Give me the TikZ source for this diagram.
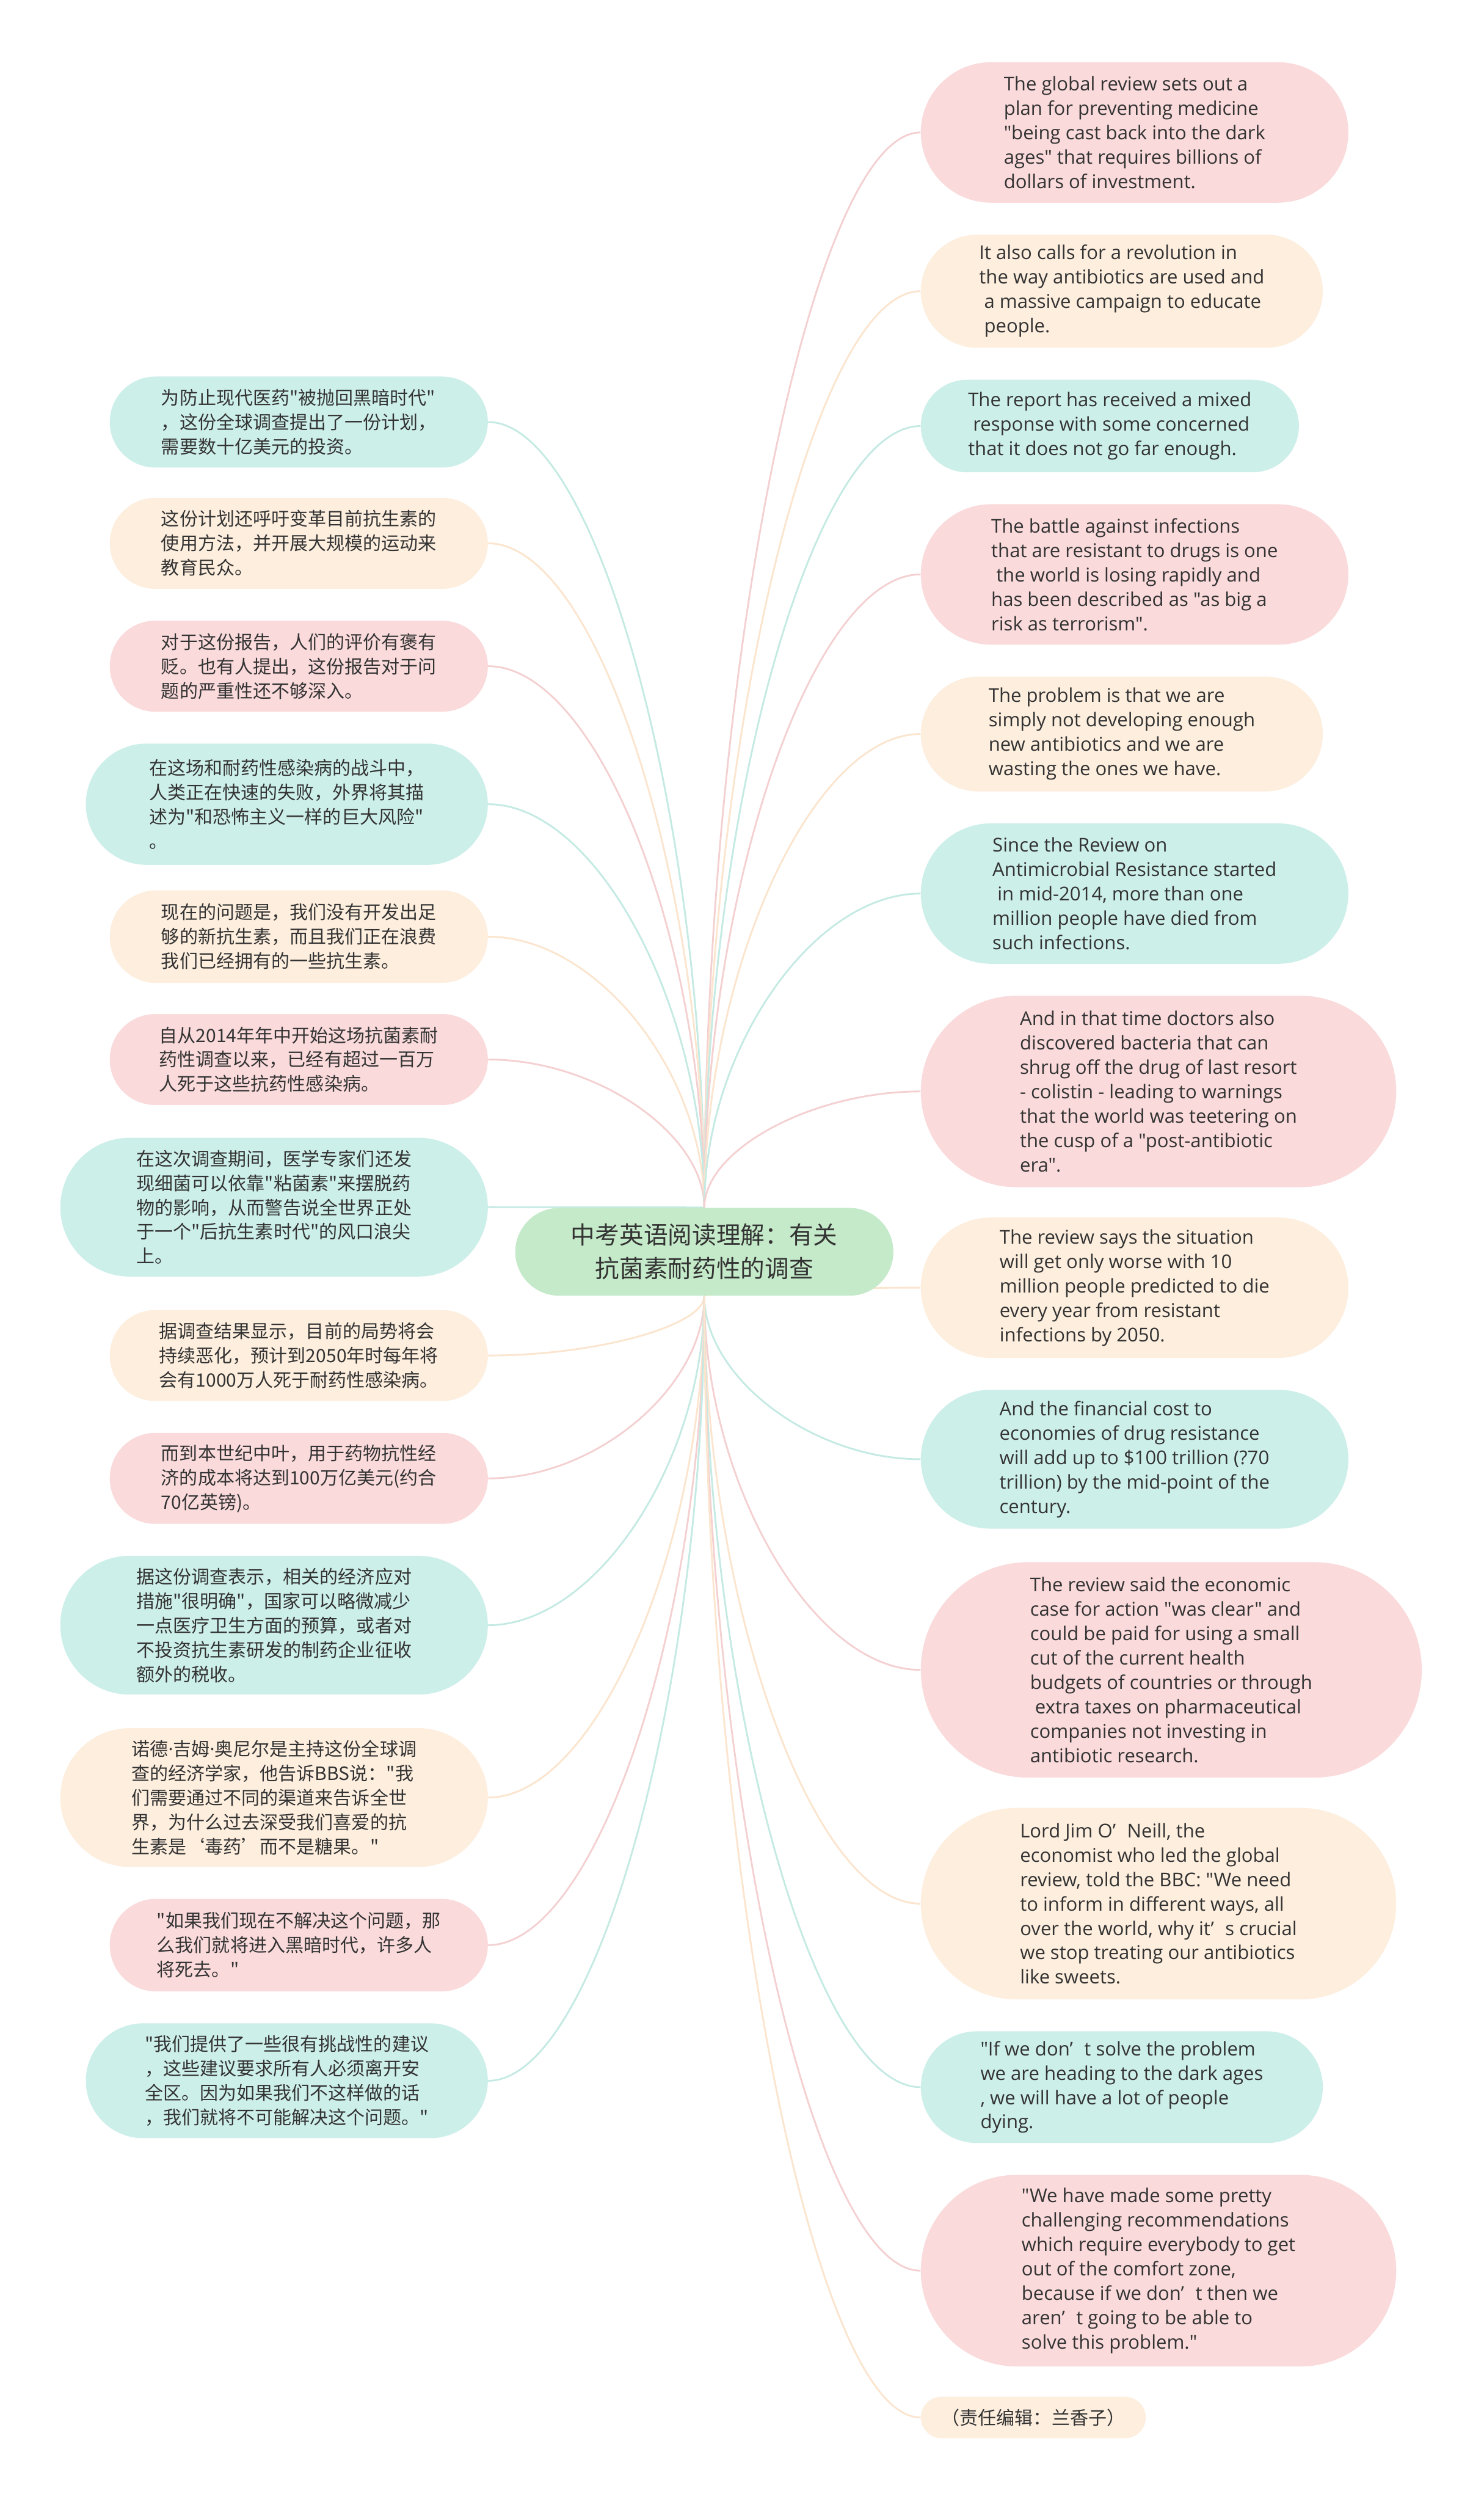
\documentclass[tikz,border=0pt]{standalone}
\usepackage{fontspec}
\setmainfont{Open Sans}[Ligatures=TeXOff]
\newfontfamily\cjk{Noto Sans CJK SC}
\usetikzlibrary{calc, backgrounds}
\definecolor{mmtext}{RGB}{51,51,51}
\definecolor{mmteal}{RGB}{205,239,233}
\definecolor{mmtealline}{RGB}{196,234,227}
\definecolor{mmpeach}{RGB}{253,238,222}
\definecolor{mmpeachline}{RGB}{251,229,206}
\definecolor{mmpink}{RGB}{250,218,219}
\definecolor{mmpinkline}{RGB}{244,208,209}
\definecolor{mmroot}{RGB}{197,234,201}
\tikzset{
  zh/.style    = {rectangle, fill=#1, text=mmtext, align=left, inner sep=0pt,
                  font=\cjk\fontsize{11.5}{15.3}\selectfont},
  en/.style    = {rectangle, fill=#1, text=mmtext, align=left, inner sep=0pt,
                  font=\fontsize{11.9}{15.3}\selectfont},
  topic/.style = {rectangle, fill=mmroot, text=mmtext, align=center, inner sep=0pt,
                  rounded corners=27.5pt, minimum width=237pt, minimum height=55pt,
                  font=\cjk\fontsize{15.2}{21}\selectfont},
  link/.style  = {draw=#1, line width=1.1pt,
                  to path={.. controls ($(\tikztostart)!0.5!(\tikztostart -| \tikztotarget)$)
                           and ($(\tikztotarget)!0.5!(\tikztostart -| \tikztotarget)$) .. (\tikztotarget)}},
}
\newcommand{\gap}{\hspace{0.6em}}
\newcommand{\mdot}{{\rmfamily\fontsize{11.5}{15.3}\selectfont ·}}

\begin{document}
\begin{tikzpicture}[x=1pt, y=-1pt]
\useasboundingbox (0,0) rectangle (930,1568);

% ---------- Central topic ----------
\node[topic] (root) at (441.5,784.5) {中考英语阅读理解：有关\\抗菌素耐药性的调查};

% ---------- Left column (Chinese) ----------
\node[zh=mmteal, anchor=east, minimum width=237pt, minimum height=57pt, rounded corners=28.5pt] (zh1) at (306,264.5)
  {为防止现代医药"被抛回黑暗时代"\\，这份全球调查提出了一份计划，\\需要数十亿美元的投资。};
\node[zh=mmpeach, anchor=east, minimum width=237pt, minimum height=57pt, rounded corners=28.5pt] (zh2) at (306,340.5)
  {这份计划还呼吁变革目前抗生素的\\使用方法，并开展大规模的运动来\\教育民众。};
\node[zh=mmpink, anchor=east, minimum width=237pt, minimum height=57pt, rounded corners=28.5pt] (zh3) at (306,417.5)
  {对于这份报告，人们的评价有褒有\\贬。也有人提出，这份报告对于问\\题的严重性还不够深入。};
\node[zh=mmteal, anchor=east, minimum width=252pt, minimum height=76pt, rounded corners=38pt] (zh4) at (306,504)
  {在这场和耐药性感染病的战斗中，\\人类正在快速的失败，外界将其描\\述为"和恐怖主义一样的巨大风险"\\。};
\node[zh=mmpeach, anchor=east, minimum width=237pt, minimum height=58pt, rounded corners=29pt] (zh5) at (306,587)
  {现在的问题是，我们没有开发出足\\够的新抗生素，而且我们正在浪费\\我们已经拥有的一些抗生素。};
\node[zh=mmpink, anchor=east, minimum width=237pt, minimum height=57pt, rounded corners=28.5pt] (zh6) at (306,664)
  {自从2014年年中开始这场抗菌素耐\\药性调查以来，已经有超过一百万\\人死于这些抗药性感染病。};
\node[zh=mmteal, anchor=east, minimum width=268pt, minimum height=87pt, rounded corners=43.5pt] (zh7) at (306,756.5)
  {在这次调查期间，医学专家们还发\\现细菌可以依靠"粘菌素"来摆脱药\\物的影响，从而警告说全世界正处\\于一个"后抗生素时代"的风口浪尖\\上。};
\node[zh=mmpeach, anchor=east, minimum width=237pt, minimum height=57pt, rounded corners=28.5pt] (zh8) at (306,849.5)
  {据调查结果显示，目前的局势将会\\持续恶化，预计到2050年时每年将\\会有1000万人死于耐药性感染病。};
\node[zh=mmpink, anchor=east, minimum width=237pt, minimum height=57pt, rounded corners=28.5pt] (zh9) at (306,926.5)
  {而到本世纪中叶，用于药物抗性经\\济的成本将达到100万亿美元(约合\\70亿英镑)。};
\node[zh=mmteal, anchor=east, minimum width=268pt, minimum height=87pt, rounded corners=43.5pt] (zh10) at (306,1018.5)
  {据这份调查表示，相关的经济应对\\措施"很明确"，国家可以略微减少\\一点医疗卫生方面的预算，或者对\\不投资抗生素研发的制药企业征收\\额外的税收。};
\node[zh=mmpeach, anchor=east, minimum width=268pt, minimum height=87pt, rounded corners=43.5pt] (zh11) at (306,1126.5)
  {诺德\mdot 吉姆\mdot 奥尼尔是主持这份全球调\\查的经济学家，他告诉BBS说："我\\们需要通过不同的渠道来告诉全世\\界，为什么过去深受我们喜爱的抗\\生素是‘毒药’而不是糖果。"};
\node[zh=mmpink, anchor=east, minimum width=237pt, minimum height=58pt, rounded corners=29pt] (zh12) at (306,1219)
  {"如果我们现在不解决这个问题，那\\么我们就将进入黑暗时代，许多人\\将死去。"};
\node[zh=mmteal, anchor=east, minimum width=252pt, minimum height=72pt, rounded corners=36pt] (zh13) at (306,1304)
  {"我们提供了一些很有挑战性的建议\\，这些建议要求所有人必须离开安\\全区。因为如果我们不这样做的话\\，我们就将不可能解决这个问题。"};

% ---------- Right column (English) ----------
\node[en=mmpink, anchor=west, minimum width=268pt, minimum height=88pt, rounded corners=44pt] (en1) at (577,83)
  {The global review sets out a\\plan for preventing medicine\\"being cast back into the dark\\ages" that requires billions of\\dollars of investment.};
\node[en=mmpeach, anchor=west, minimum width=252pt, minimum height=71pt, rounded corners=35.5pt] (en2) at (577,182.5)
  {It also calls for a revolution in\\the way antibiotics are used and\\\ a massive campaign to educate\\\ people.};
\node[en=mmteal, anchor=west, minimum width=237pt, minimum height=58pt, rounded corners=29pt] (en3) at (577,267)
  {The report has received a mixed\\\ response with some concerned\\that it does not go far enough.};
\node[en=mmpink, anchor=west, minimum width=268pt, minimum height=88pt, rounded corners=44pt] (en4) at (577,360)
  {The battle against infections\\that are resistant to drugs is one\\\ the world is losing rapidly and\\has been described as "as big a\\risk as terrorism".};
\node[en=mmpeach, anchor=west, minimum width=252pt, minimum height=72pt, rounded corners=36pt] (en5) at (577,460)
  {The problem is that we are\\simply not developing enough\\new antibiotics and we are\\wasting the ones we have.};
\node[en=mmteal, anchor=west, minimum width=268pt, minimum height=88pt, rounded corners=44pt] (en6) at (577,560)
  {Since the Review on\\Antimicrobial Resistance started\\\ in mid-2014, more than one\\million people have died from\\such infections.};
\node[en=mmpink, anchor=west, minimum width=298pt, minimum height=120pt, rounded corners=60pt] (en7) at (577,684)
  {And in that time doctors also\\discovered bacteria that can\\shrug off the drug of last resort\\- colistin - leading to warnings\\that the world was teetering on\\the cusp of a "post-antibiotic\\era".};
\node[en=mmpeach, anchor=west, minimum width=268pt, minimum height=88pt, rounded corners=44pt] (en8) at (577,807)
  {The review says the situation\\will get only worse with 10\\million people predicted to die\\every year from resistant\\infections by 2050.};
\node[en=mmteal, anchor=west, minimum width=268pt, minimum height=87pt, rounded corners=43.5pt] (en9) at (577,914.5)
  {And the financial cost to\\economies of drug resistance\\will add up to \$100 trillion (?70\\trillion) by the mid-point of the\\century.};
\node[en=mmpink, anchor=west, minimum width=314pt, minimum height=135pt, rounded corners=67.5pt] (en10) at (577,1046.5)
  {The review said the economic\\case for action "was clear" and\\could be paid for using a small\\cut of the current health\\budgets of countries or through\\\ extra taxes on pharmaceutical\\companies not investing in\\antibiotic research.};
\node[en=mmpeach, anchor=west, minimum width=298pt, minimum height=120pt, rounded corners=60pt] (en11) at (577,1193)
  {Lord Jim O’\gap Neill, the\\economist who led the global\\review, told the BBC: "We need\\to inform in different ways, all\\over the world, why it’\gap s crucial\\we stop treating our antibiotics\\like sweets.};
\node[en=mmteal, anchor=west, minimum width=252pt, minimum height=70pt, rounded corners=35pt] (en12) at (577,1308)
  {"If we don’\gap t solve the problem\\we are heading to the dark ages\\, we will have a lot of people\\dying.};
\node[en=mmpink, anchor=west, minimum width=298pt, minimum height=120pt, rounded corners=60pt] (en13) at (577,1423)
  {"We have made some pretty\\challenging recommendations\\which require everybody to get\\out of the comfort zone,\\because if we don’\gap t then we\\aren’\gap t going to be able to\\solve this problem."};
\node[zh=mmpeach, anchor=west, minimum width=141pt, minimum height=26pt, rounded corners=13pt] (en14) at (577,1515)
  {（责任编辑：兰香子）};

% ---------- Branches ----------
\begin{scope}[on background layer]
\fill[white] (0,0) rectangle (930,1568);
\draw[link=mmtealline]  (zh1.east)  to (root.north);
\draw[link=mmpeachline] (zh2.east)  to (root.north);
\draw[link=mmpinkline]  (zh3.east)  to (root.north);
\draw[link=mmtealline]  (zh4.east)  to (root.north);
\draw[link=mmpeachline] (zh5.east)  to (root.north);
\draw[link=mmpinkline]  (zh6.east)  to (root.north);
\draw[link=mmtealline]  (zh7.east)  to (root.north);
\draw[link=mmpeachline] (zh8.east)  to (root.south);
\draw[link=mmpinkline]  (zh9.east)  to (root.south);
\draw[link=mmtealline]  (zh10.east) to (root.south);
\draw[link=mmpeachline] (zh11.east) to (root.south);
\draw[link=mmpinkline]  (zh12.east) to (root.south);
\draw[link=mmtealline]  (zh13.east) to (root.south);

\draw[link=mmpinkline]  (en1.west)  to (root.north);
\draw[link=mmpeachline] (en2.west)  to (root.north);
\draw[link=mmtealline]  (en3.west)  to (root.north);
\draw[link=mmpinkline]  (en4.west)  to (root.north);
\draw[link=mmpeachline] (en5.west)  to (root.north);
\draw[link=mmtealline]  (en6.west)  to (root.north);
\draw[link=mmpinkline]  (en7.west)  to (root.north);
\draw[link=mmpeachline] (en8.west)  to (root.south);
\draw[link=mmtealline]  (en9.west)  to (root.south);
\draw[link=mmpinkline]  (en10.west) to (root.south);
\draw[link=mmpeachline] (en11.west) to (root.south);
\draw[link=mmtealline]  (en12.west) to (root.south);
\draw[link=mmpinkline]  (en13.west) to (root.south);
\draw[link=mmpeachline] (en14.west) to (root.south);
\end{scope}

\end{tikzpicture}
\end{document}
